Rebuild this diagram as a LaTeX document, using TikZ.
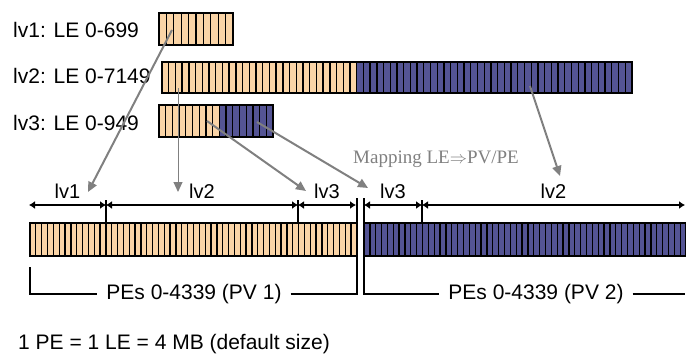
\documentclass[tikz,border=0pt]{standalone}
\usepackage{fontspec}
\setmainfont{Liberation Sans}
\newfontfamily\mapfont{Liberation Serif}
\usetikzlibrary{arrows.meta}
\definecolor{lepeach}{RGB}{250,212,166}
\definecolor{peblue}{RGB}{84,84,148}
\definecolor{mapgray}{RGB}{128,128,128}
\tikzset{
  lbl/.style={font=\fontsize{21}{24}\selectfont, inner sep=0pt},
  dlbl/.style={font=\fontsize{20}{24}\selectfont, inner sep=0pt, midway, above=6pt},
  cell/.style={line width=1.3pt},
  dim/.style={line width=1.3pt, {Latex[length=6pt,width=8pt]}-{Latex[length=6pt,width=8pt]}},
  map/.style={draw=mapgray, line width=2pt, -{Triangle[length=10pt,width=9pt]}}
}
\begin{document}
\begin{tikzpicture}[x=1pt,y=-1pt]
\useasboundingbox (0,0) rectangle (686,356);
% logical volumes
\node[lbl, anchor=base west] (lvA) at (13,37) {lv1: LE 0-699};
\node[lbl, anchor=base west] (lvB) at (13,83) {lv2: LE 0-7149};
\node[lbl, anchor=base west] (lvC) at (13,130) {lv3: LE 0-949};
\fill[lepeach] (159,13) rectangle (233,45);
\foreach \i in {0,...,10}
  {\draw[cell] ({159+\i*7.4},13) -- ({159+\i*7.4},45);}
\draw[cell] (159,13) rectangle (233,45);
\fill[lepeach] (162,62) rectangle (356.7,93);
\fill[peblue] (356.7,62) rectangle (632,93);
\foreach \i in {0,...,70}
  {\draw[cell] ({162+\i*6.714},62) -- ({162+\i*6.714},93);}
\draw[cell] (162,62) rectangle (632,93);
\fill[lepeach] (159,105) rectangle (219.4,137);
\fill[peblue] (219.4,105) rectangle (273,137);
\foreach \i in {0,...,17}
  {\draw[cell] ({159+\i*6.706},105) -- ({159+\i*6.706},137);}
\draw[cell] (159,105) rectangle (273,137);
\node[font=\mapfont\fontsize{19}{22}\selectfont, text=mapgray, inner sep=0pt, anchor=base west] (maplbl) at (353,163) {Mapping LE$\Rightarrow$PV/PE};
% physical volumes
\fill[lepeach] (30,223) rectangle (357,256);
\foreach \i in {0,...,56}
  {\draw[cell] ({30+\i*5.839},223) -- ({30+\i*5.839},256);}
\draw[cell] (30,223) rectangle (357,256);
\fill[peblue] (364,223) rectangle (686,256);
\foreach \i in {0,...,55}
  {\draw[cell] ({364+\i*5.855},223) -- ({364+\i*5.855},256);}
\draw[cell] (364,223) rectangle (686,256);
% extents
\draw[dim] (29,205) -- node[dlbl] (dA) {lv1} (106,205);
\draw[dim] (106,205) -- node[dlbl] (dB) {lv2} (298,205);
\draw[dim] (298,205) -- node[dlbl] (dC) {lv3} (356,205);
\draw[dim] (364,205) -- node[dlbl] (dD) {lv3} (422,205);
\draw[dim] (422,205) -- node[dlbl] (dE) {lv2} (685,205);
\foreach \x in {106,298,422}
  {\draw[cell] (\x,200) -- (\x,223);}
\draw[cell] (357,198) -- (357,223);
\draw[cell] (364,198) -- (364,223);
% brackets
\node[lbl, inner xsep=9pt] (pvA) at (194,294) {PEs 0-4339 (PV 1)};
\node[lbl, inner xsep=9pt] (pvB) at (536,294) {PEs 0-4339 (PV 2)};
\draw[cell] (30,267) |- (pvA.west);
\draw[cell] (pvA.east) -| (357,257);
\draw[cell] (364,257) |- (pvB.west);
\draw[cell] (pvB.east) -- (685,294);
\node[lbl, anchor=base west] (note) at (18,349) {1 PE = 1 LE = 4 MB (default size)};
% mapping arrows
\coordinate (sA) at (172,30);  \coordinate (eA) at (88,192);
\coordinate (sB) at (178,88);  \coordinate (eB) at (178,192);
\coordinate (sC) at (207,121); \coordinate (eC) at (306,191);
\coordinate (sD) at (257,122); \coordinate (eD) at (368,188);
\coordinate (sE) at (530,86);  \coordinate (eE) at (560,176);
\draw[map] (sA) -- (eA);
\draw[map, line width=1pt] (sB) -- (eB);
\draw[map] (sC) -- (eC);
\draw[map] (sD) -- (eD);
\draw[map] (sE) -- (eE);
\end{tikzpicture}
\end{document}
